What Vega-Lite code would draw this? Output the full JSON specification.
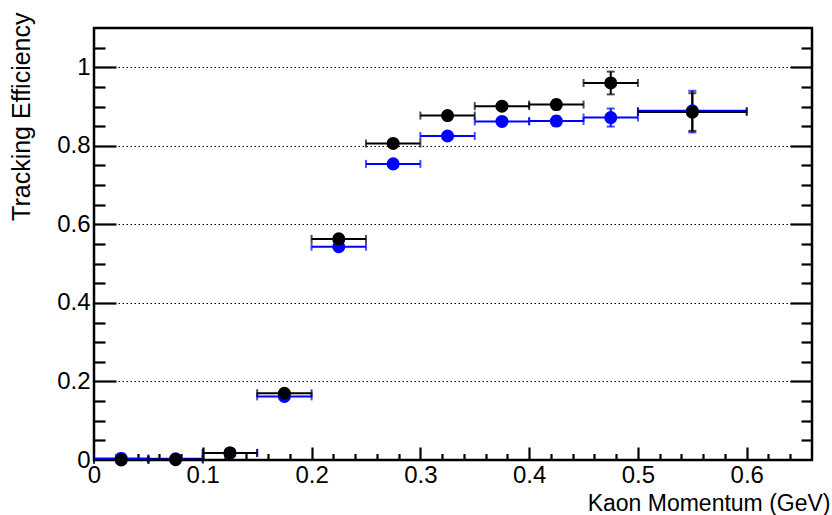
{
  "$schema": "https://vega.github.io/schema/vega-lite/v6.json",
  "width": 718,
  "height": 432,
  "autosize": {"type": "none"},
  "padding": {"left": 94, "top": 28, "right": 20, "bottom": 55},
  "background": "white",
  "config": {
    "view": {"stroke": "#000000", "strokeWidth": 2.5},
    "axis": {"labelFont": "Liberation Sans", "titleFont": "Liberation Sans", "labelFontSize": 24, "titleFontSize": 25, "labelColor": "#000", "titleColor": "#000", "titleFontWeight": "normal", "tickColor": "#000", "tickWidth": 2.2, "domain": false, "grid": false, "format": "~g"}
  },
  "data": {"values": [
    {"s": "blue", "x": 0.025, "xlo": 0.0, "xhi": 0.05, "y": 0.004, "ylo": 0.0, "yhi": 0.016},
    {"s": "blue", "x": 0.075, "xlo": 0.05, "xhi": 0.1, "y": 0.003, "ylo": 0.0, "yhi": 0.006},
    {"s": "blue", "x": 0.125, "xlo": 0.1, "xhi": 0.15, "y": 0.018, "ylo": 0.014, "yhi": 0.022},
    {"s": "blue", "x": 0.175, "xlo": 0.15, "xhi": 0.2, "y": 0.162, "ylo": 0.156, "yhi": 0.168},
    {"s": "blue", "x": 0.225, "xlo": 0.2, "xhi": 0.25, "y": 0.543, "ylo": 0.535, "yhi": 0.551},
    {"s": "blue", "x": 0.275, "xlo": 0.25, "xhi": 0.3, "y": 0.754, "ylo": 0.746, "yhi": 0.762},
    {"s": "blue", "x": 0.325, "xlo": 0.3, "xhi": 0.35, "y": 0.825, "ylo": 0.817, "yhi": 0.833},
    {"s": "blue", "x": 0.375, "xlo": 0.35, "xhi": 0.4, "y": 0.862, "ylo": 0.852, "yhi": 0.872},
    {"s": "blue", "x": 0.425, "xlo": 0.4, "xhi": 0.45, "y": 0.863, "ylo": 0.851, "yhi": 0.875},
    {"s": "blue", "x": 0.475, "xlo": 0.45, "xhi": 0.5, "y": 0.872, "ylo": 0.849, "yhi": 0.895},
    {"s": "blue", "x": 0.55, "xlo": 0.5, "xhi": 0.6, "y": 0.889, "ylo": 0.834, "yhi": 0.94},
    {"s": "black", "x": 0.025, "xlo": 0.0, "xhi": 0.05, "y": 0.0, "ylo": 0.0, "yhi": 0.002},
    {"s": "black", "x": 0.075, "xlo": 0.05, "xhi": 0.1, "y": 0.001, "ylo": 0.0, "yhi": 0.003},
    {"s": "black", "x": 0.125, "xlo": 0.1, "xhi": 0.15, "y": 0.018, "ylo": 0.013, "yhi": 0.023},
    {"s": "black", "x": 0.175, "xlo": 0.15, "xhi": 0.2, "y": 0.17, "ylo": 0.163, "yhi": 0.177},
    {"s": "black", "x": 0.225, "xlo": 0.2, "xhi": 0.25, "y": 0.563, "ylo": 0.555, "yhi": 0.571},
    {"s": "black", "x": 0.275, "xlo": 0.25, "xhi": 0.3, "y": 0.806, "ylo": 0.797, "yhi": 0.815},
    {"s": "black", "x": 0.325, "xlo": 0.3, "xhi": 0.35, "y": 0.877, "ylo": 0.868, "yhi": 0.886},
    {"s": "black", "x": 0.375, "xlo": 0.35, "xhi": 0.4, "y": 0.901, "ylo": 0.891, "yhi": 0.911},
    {"s": "black", "x": 0.425, "xlo": 0.4, "xhi": 0.45, "y": 0.905, "ylo": 0.893, "yhi": 0.917},
    {"s": "black", "x": 0.475, "xlo": 0.45, "xhi": 0.5, "y": 0.96, "ylo": 0.931, "yhi": 0.989},
    {"s": "black", "x": 0.55, "xlo": 0.5, "xhi": 0.6, "y": 0.886, "ylo": 0.838, "yhi": 0.934}
  ]},
  "resolve": {"axis": {"x": "independent", "y": "independent"}},
  "layer": [
    {
      "mark": {"type": "rule", "strokeWidth": 2},
      "encoding": {
        "x": {"field": "xlo", "type": "quantitative", "scale": {"domain": [0, 0.66], "nice": false, "zero": false},
              "axis": {"orient": "bottom", "values": [0, 0.1, 0.2, 0.3, 0.4, 0.5, 0.6], "ticks": false, "labelPadding": 3, "labelFlush": false, "labelOverlap": false,
                       "title": "Kaon Momentum (GeV)", "titleFontSize": 23, "titleAnchor": null, "titleAlign": "right", "titleBaseline": "alphabetic", "titleX": 736, "titleY": 50}},
        "x2": {"field": "xhi"},
        "y": {"field": "y", "type": "quantitative", "scale": {"domain": [0, 1.1], "nice": false, "zero": false},
              "axis": {"orient": "left", "values": [0, 0.2, 0.4, 0.6, 0.8, 1], "ticks": false, "labelPadding": 4, "labelFlush": false, "labelOverlap": false,
                       "grid": false,
                       "title": "Tracking Efficiency", "titleAnchor": null, "titleAngle": -90, "titleAlign": "right", "titleBaseline": "alphabetic", "titleX": -65, "titleY": -16}},
        "color": {"field": "s", "type": "nominal", "scale": {"domain": ["blue", "black"], "range": ["#0000ff", "#000000"]}, "legend": null}
      }
    },
    {
      "mark": {"type": "tick", "orient": "vertical", "size": 8, "thickness": 2},
      "encoding": {
        "x": {"field": "xlo", "type": "quantitative",
              "axis": {"orient": "bottom", "values": [0.1, 0.2, 0.3, 0.4, 0.5, 0.6], "tickSize": -13, "labels": false, "title": null}},
        "y": {"field": "y", "type": "quantitative",
              "axis": {"orient": "left", "values": [0.2, 0.4, 0.6, 0.8, 1], "tickSize": -22, "labels": false, "title": null,
                       "grid": true, "gridColor": "#000", "gridDash": [1.5, 2.5], "gridWidth": 1}},
        "color": {"field": "s", "type": "nominal", "legend": null}
      }
    },
    {
      "mark": {"type": "tick", "orient": "vertical", "size": 8, "thickness": 2},
      "encoding": {
        "x": {"field": "xhi", "type": "quantitative",
              "axis": {"orient": "bottom", "values": [0.02, 0.04, 0.06, 0.08, 0.12, 0.14, 0.16, 0.18, 0.22, 0.24, 0.26, 0.28, 0.32, 0.34, 0.36, 0.38, 0.42, 0.44, 0.46, 0.48, 0.52, 0.54, 0.56, 0.58, 0.62, 0.64], "tickSize": -6.5, "labels": false, "title": null}},
        "y": {"field": "y", "type": "quantitative",
              "axis": {"orient": "left", "values": [0.05, 0.1, 0.15, 0.25, 0.3, 0.35, 0.45, 0.5, 0.55, 0.65, 0.7, 0.75, 0.85, 0.9, 0.95, 1.05], "tickSize": -11, "labels": false, "title": null}},
        "color": {"field": "s", "type": "nominal", "legend": null}
      }
    },
    {
      "mark": {"type": "rule", "strokeWidth": 2},
      "encoding": {
        "x": {"field": "x", "type": "quantitative", "axis": null},
        "y": {"field": "ylo", "type": "quantitative",
              "axis": {"orient": "right", "values": [0.2, 0.4, 0.6, 0.8, 1], "tickSize": -22, "labels": false, "title": null}},
        "y2": {"field": "yhi"},
        "color": {"field": "s", "type": "nominal", "legend": null}
      }
    },
    {
      "mark": {"type": "tick", "orient": "horizontal", "size": 8, "thickness": 2},
      "encoding": {
        "x": {"field": "x", "type": "quantitative", "axis": null},
        "y": {"field": "ylo", "type": "quantitative",
              "axis": {"orient": "right", "values": [0.05, 0.1, 0.15, 0.25, 0.3, 0.35, 0.45, 0.5, 0.55, 0.65, 0.7, 0.75, 0.85, 0.9, 0.95, 1.05], "tickSize": -11, "labels": false, "title": null}},
        "color": {"field": "s", "type": "nominal", "legend": null}
      }
    },
    {
      "mark": {"type": "tick", "orient": "horizontal", "size": 8, "thickness": 2},
      "encoding": {
        "x": {"field": "x", "type": "quantitative", "axis": null},
        "y": {"field": "yhi", "type": "quantitative", "axis": null},
        "color": {"field": "s", "type": "nominal", "legend": null}
      }
    },
    {
      "mark": {"type": "point", "shape": "circle", "filled": true, "size": 170, "opacity": 1},
      "encoding": {
        "x": {"field": "x", "type": "quantitative", "axis": null},
        "y": {"field": "y", "type": "quantitative", "axis": null},
        "color": {"field": "s", "type": "nominal", "legend": null}
      }
    }
  ]
}
